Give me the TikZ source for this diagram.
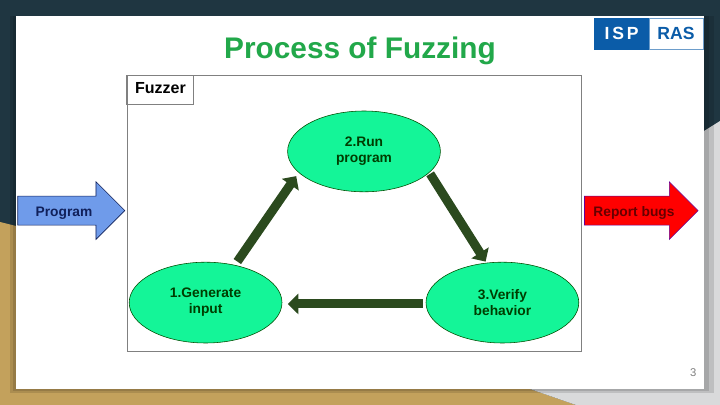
\documentclass[tikz,border=0pt]{standalone}
\usepackage{fontspec}
\setmainfont{Liberation Sans}
\usetikzlibrary{arrows.meta,shapes.geometric,shapes.arrows}
\definecolor{slate}{HTML}{1F3641}
\definecolor{sand}{HTML}{C3A15C}
\definecolor{pale}{HTML}{D9DADB}
\definecolor{mint}{HTML}{14F598}
\definecolor{moss}{HTML}{2B4A1E}
\definecolor{leaf}{HTML}{22A84A}
\definecolor{ispblue}{HTML}{0B5CA8}
\definecolor{sky}{HTML}{6F9BEA}
\definecolor{navy}{HTML}{10205A}

\begin{document}
\begin{tikzpicture}[
  >={Triangle[width=.5cm,length=.26cm]},
  every node/.style={font=\fontsize{9.8}{11.4}\selectfont\bfseries,align=center},
  stepnode/.style={ellipse,draw=black!70!green,fill=mint,text=black!70!green!80!black,minimum width=3.82cm,minimum height=2.02cm,inner sep=0pt,execute at begin node=\rule{0pt}{11.3pt}},
  flow/.style={->,moss,line width=.225cm},
  inout/.style={single arrow,single arrow head extend=.356cm,single arrow tip angle=90,minimum width=1.425cm,text height=.5cm,text depth=.2125cm,inner sep=0pt}
  ]
%\draw [ultra thin, lightgray] (0,0) grid (18,10);
\useasboundingbox (0,0) rectangle (18,10.125);
\fill [slate] (0,0) rectangle (18,10.125);
\fill [sand] (0,4.575) -- (.4,4.475) -- (.4,.4) -- (13.25,.4) -- (14.4,0) -- (0,0) -- cycle;
\fill [pale] (18,7.1) -- (17.6,6.85) -- (13.25,.4) -- (14.4,0) -- (18,0) -- cycle;
\fill [black, opacity=.12] (.25,.3) rectangle (17.85,9.725);
\fill [black, opacity=.12] (.32,.35) rectangle (17.72,9.725);
\fill [white] (.4,.4) rectangle (17.6,9.725);
\node [font=\fontsize{21.2}{25}\selectfont\bfseries, text=leaf] (title) at (9,8.845) {Process of Fuzzing};
% logo
\node [draw=ispblue, fill=ispblue, text=white, font=\fontsize{12.5}{14}\selectfont\bfseries, minimum width=1.37cm, minimum height=.79cm, inner sep=0pt] (isp) at (15.54,9.28) {I\,S\,P};
\node [draw=ispblue!60, fill=white, text=ispblue, font=\fontsize{12.5}{14}\selectfont\bfseries, minimum width=1.35cm, minimum height=.79cm, inner sep=0pt] (ras) at (16.9,9.28) {RAS};
% fuzzer frame
\draw [gray, line width=.7pt] (3.175,1.35) rectangle (14.54,8.24);
\node [draw=gray, line width=.7pt, font=\fontsize{11.4}{13}\selectfont\bfseries, minimum width=1.675cm, minimum height=.715cm, inner sep=0pt, text height=.3cm, text depth=.1cm] (fuzzer) at (4.01,7.88) {Fuzzer};
\node [stepnode] (gen) at (5.14,2.56) {1.Generate\\input};
\node [stepnode] (run) at (9.1,6.34) {2.Run\\program};
\node [stepnode] (verify) at (12.56,2.56) {3.Verify\\behavior};
\draw [flow, shorten <=3pt, shorten >=3pt] (gen.52) -- (run.198);
\draw [flow, shorten <=1pt, shorten >=1pt] (run.-18) -- (verify.112);
\draw [flow, shorten <=2pt, shorten >=4pt] (verify.181.5) -- (gen.-1.5);
\node [inout, minimum height=2.675cm, draw=navy, fill=sky, text=navy] (program) at (1.6,4.86) {Program};
\node [inout, minimum height=2.84cm, draw=blue!60!red, fill=red, text=red!40!black] (report) at (15.85,4.86) {Report bugs};
\node [font=\fontsize{8}{9}\selectfont, text=gray] (page) at (17.33,.82) {3};
\end{tikzpicture}
\end{document}
